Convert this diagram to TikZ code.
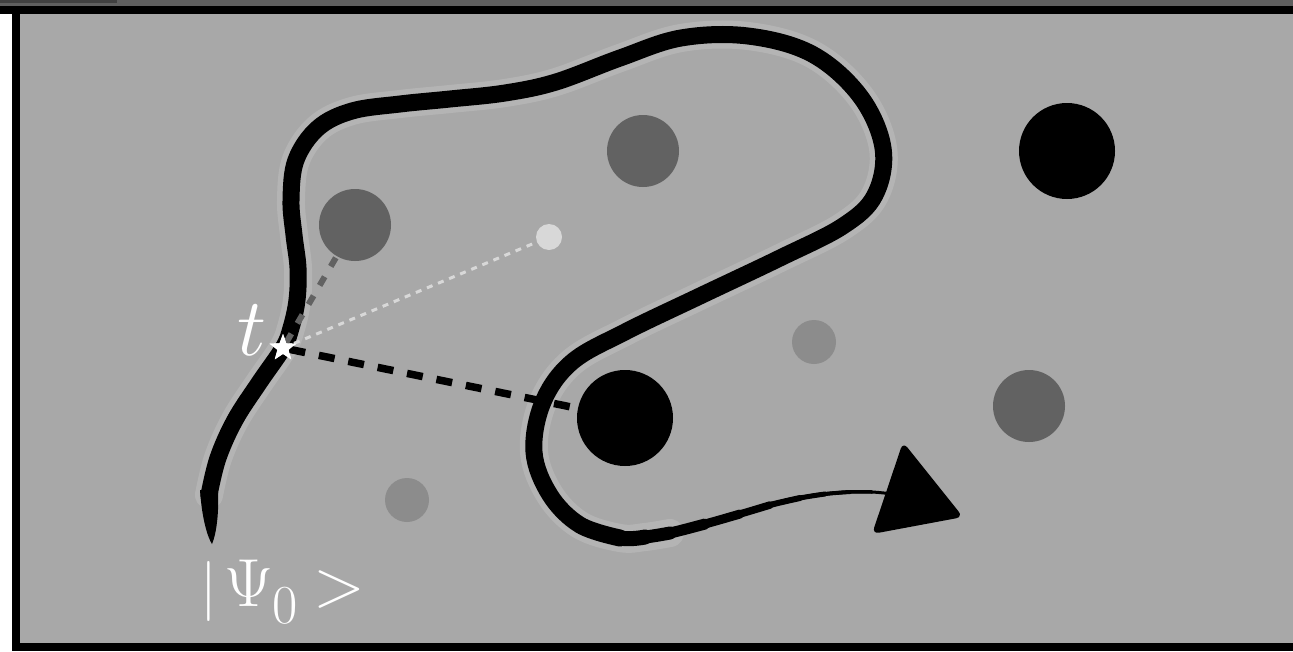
\RequirePackage{fix-cm}
\documentclass[tikz,border=0pt]{standalone}
\usetikzlibrary{shapes.geometric}
\definecolor{bg}{HTML}{A8A8A8}
\definecolor{topgray}{HTML}{5F5F5F}
\definecolor{darkg}{HTML}{626262}
\definecolor{midg}{HTML}{8C8C8C}
\definecolor{lightg}{HTML}{D8D8D8}
\tikzset{
  blob/.style={circle, inner sep=0pt, minimum size=#1},
  curve/.style={black, line cap=round, line join=round},
  blackdash/.style={black, line width=7.5pt, dash pattern=on 16pt off 14pt},
  graydash/.style={darkg, line width=6pt, dash pattern=on 10pt off 12pt},
  lightdot/.style={lightg, line width=3pt, dash pattern=on 6pt off 6pt},
  whitelabel/.style={text=white, anchor=base west, inner sep=0pt},
  starmark/.style={star, star points=5, star point ratio=2.4, fill=white, minimum size=28pt, inner sep=0pt}
}
\begin{document}
\begin{tikzpicture}[x=1pt,y=-1pt]
\fill[white] (0,0) rectangle (1293,651);
\useasboundingbox (0,0) rectangle (1293,651);
\fill[topgray] (0,0) rectangle (1293,6);
\fill[black!75] (0,0) rectangle (117,2.5);
\fill[black] (0,6) rectangle (1293,14);
\fill[black] (12,14) rectangle (20,651);
\fill[black] (12,643) rectangle (1293,651);
\fill[bg] (20,14) rectangle (1293,643);

% circles
\node[blob=72pt, fill=darkg] (c1) at (355,225) {};
\node[blob=72pt, fill=darkg] (c2) at (643,151) {};
\node[blob=96pt, fill=black] (c3) at (1067,151) {};
\node[blob=26pt, fill=lightg] (c4) at (549,237) {};
\node[blob=44pt, fill=midg] (c5) at (814,342) {};
\node[blob=96pt, fill=black] (c6) at (625,418) {};
\node[blob=72pt, fill=darkg] (c7) at (1029,406) {};
\node[blob=44pt, fill=midg] (c8) at (407,500) {};

% halo
\draw[white, opacity=0.15, line width=28pt, line cap=round, line join=round] plot[smooth, tension=0.6] coordinates {(209,495) (218,458) (235,420) (259,383) (283,348) (291,328) (297,300) (298,268) (294,235) (291,200) (296,160) (318,128) (352,111) (400,104) (450,99) (505,93) (556,82) (620,58) (681,38) (748,36) (812,54) (860,96) (883,148) (875,195) (843,226) (780,258) (700,296) (625,332) (572,362) (543,402) (534,452) (550,495) (580,525) (620,538) (645,537) (670,533)};

% path
\fill[black] (200,490) .. controls (202,520) and (208,538) .. (212,544) .. controls (216,535) and (219,515) .. (218,492) -- cycle;
\draw[curve, line width=3pt] plot[smooth, tension=0.6] coordinates {(209,495) (218,458) (235,420) (259,383) (283,348) (291,328) (297,300) (298,268) (294,235) (291,200) (296,160) (318,128) (352,111) (400,104) (450,99) (505,93) (556,82) (620,58) (681,38) (748,36) (812,54) (860,96) (883,148) (875,195) (843,226) (780,258) (700,296) (625,332) (572,362) (543,402) (534,452) (550,495) (580,525) (620,538) (645,537) (670,533) (705,524) (740,514) (770,505) (800,498) (825,494) (850,492) (872,492) (893,494)};
\draw[curve, line width=3.5pt] plot[smooth, tension=0.6] coordinates {(209,495) (218,458) (235,420) (259,383) (283,348) (291,328) (297,300) (298,268) (294,235) (291,200) (296,160) (318,128) (352,111) (400,104) (450,99) (505,93) (556,82) (620,58) (681,38) (748,36) (812,54) (860,96) (883,148) (875,195) (843,226) (780,258) (700,296) (625,332) (572,362) (543,402) (534,452) (550,495) (580,525) (620,538) (645,537) (670,533) (705,524) (740,514) (770,505) (800,498) (825,494) (850,492) (872,492)};
\draw[curve, line width=4pt] plot[smooth, tension=0.6] coordinates {(209,495) (218,458) (235,420) (259,383) (283,348) (291,328) (297,300) (298,268) (294,235) (291,200) (296,160) (318,128) (352,111) (400,104) (450,99) (505,93) (556,82) (620,58) (681,38) (748,36) (812,54) (860,96) (883,148) (875,195) (843,226) (780,258) (700,296) (625,332) (572,362) (543,402) (534,452) (550,495) (580,525) (620,538) (645,537) (670,533) (705,524) (740,514) (770,505) (800,498) (825,494) (850,492)};
\draw[curve, line width=5pt] plot[smooth, tension=0.6] coordinates {(209,495) (218,458) (235,420) (259,383) (283,348) (291,328) (297,300) (298,268) (294,235) (291,200) (296,160) (318,128) (352,111) (400,104) (450,99) (505,93) (556,82) (620,58) (681,38) (748,36) (812,54) (860,96) (883,148) (875,195) (843,226) (780,258) (700,296) (625,332) (572,362) (543,402) (534,452) (550,495) (580,525) (620,538) (645,537) (670,533) (705,524) (740,514) (770,505) (800,498) (825,494)};
\draw[curve, line width=6pt] plot[smooth, tension=0.6] coordinates {(209,495) (218,458) (235,420) (259,383) (283,348) (291,328) (297,300) (298,268) (294,235) (291,200) (296,160) (318,128) (352,111) (400,104) (450,99) (505,93) (556,82) (620,58) (681,38) (748,36) (812,54) (860,96) (883,148) (875,195) (843,226) (780,258) (700,296) (625,332) (572,362) (543,402) (534,452) (550,495) (580,525) (620,538) (645,537) (670,533) (705,524) (740,514) (770,505) (800,498)};
\draw[curve, line width=7.5pt] plot[smooth, tension=0.6] coordinates {(209,495) (218,458) (235,420) (259,383) (283,348) (291,328) (297,300) (298,268) (294,235) (291,200) (296,160) (318,128) (352,111) (400,104) (450,99) (505,93) (556,82) (620,58) (681,38) (748,36) (812,54) (860,96) (883,148) (875,195) (843,226) (780,258) (700,296) (625,332) (572,362) (543,402) (534,452) (550,495) (580,525) (620,538) (645,537) (670,533) (705,524) (740,514) (770,505)};
\draw[curve, line width=9pt] plot[smooth, tension=0.6] coordinates {(209,495) (218,458) (235,420) (259,383) (283,348) (291,328) (297,300) (298,268) (294,235) (291,200) (296,160) (318,128) (352,111) (400,104) (450,99) (505,93) (556,82) (620,58) (681,38) (748,36) (812,54) (860,96) (883,148) (875,195) (843,226) (780,258) (700,296) (625,332) (572,362) (543,402) (534,452) (550,495) (580,525) (620,538) (645,537) (670,533) (705,524) (740,514)};
\draw[curve, line width=11pt] plot[smooth, tension=0.6] coordinates {(209,495) (218,458) (235,420) (259,383) (283,348) (291,328) (297,300) (298,268) (294,235) (291,200) (296,160) (318,128) (352,111) (400,104) (450,99) (505,93) (556,82) (620,58) (681,38) (748,36) (812,54) (860,96) (883,148) (875,195) (843,226) (780,258) (700,296) (625,332) (572,362) (543,402) (534,452) (550,495) (580,525) (620,538) (645,537) (670,533) (705,524)};
\draw[curve, line width=13pt] plot[smooth, tension=0.6] coordinates {(209,495) (218,458) (235,420) (259,383) (283,348) (291,328) (297,300) (298,268) (294,235) (291,200) (296,160) (318,128) (352,111) (400,104) (450,99) (505,93) (556,82) (620,58) (681,38) (748,36) (812,54) (860,96) (883,148) (875,195) (843,226) (780,258) (700,296) (625,332) (572,362) (543,402) (534,452) (550,495) (580,525) (620,538) (645,537) (670,533)};
\draw[curve, line width=15pt] plot[smooth, tension=0.6] coordinates {(209,495) (218,458) (235,420) (259,383) (283,348) (291,328) (297,300) (298,268) (294,235) (291,200) (296,160) (318,128) (352,111) (400,104) (450,99) (505,93) (556,82) (620,58) (681,38) (748,36) (812,54) (860,96) (883,148) (875,195) (843,226) (780,258) (700,296) (625,332) (572,362) (543,402) (534,452) (550,495) (580,525) (620,538) (645,537)};
\draw[curve, line width=17pt] plot[smooth, tension=0.6] coordinates {(209,495) (218,458) (235,420) (259,383) (283,348) (291,328) (297,300) (298,268) (294,235) (291,200) (296,160) (318,128) (352,111) (400,104) (450,99) (505,93) (556,82) (620,58) (681,38) (748,36) (812,54) (860,96) (883,148) (875,195) (843,226) (780,258) (700,296) (625,332) (572,362) (543,402) (534,452) (550,495) (580,525) (620,538)};
\fill[black, rounded corners=7pt] (903,442) -- (963,517) -- (872,534) -- cycle;

% star and connectors
\node[starmark] (s) at (283,348) {};
\draw[lightdot] (s) -- (c4);
\draw[graydash] (s) -- (c1);
\draw[blackdash] (s) -- (c6);
\node[starmark] at (283,348) {};

% labels
\node[whitelabel, font=\fontsize{82}{86}\selectfont] (tlab) at (237,355) {$t$};
\node[whitelabel] (psi) at (200,606) {\fontsize{60}{60}\selectfont$|$\hspace{7.3pt}\fontsize{68}{70}\selectfont$\Psi$\hspace{-1pt}\raisebox{-17pt}{\fontsize{55}{56}\selectfont 0}\hspace{16pt}$>$};
\end{tikzpicture}
\end{document}
